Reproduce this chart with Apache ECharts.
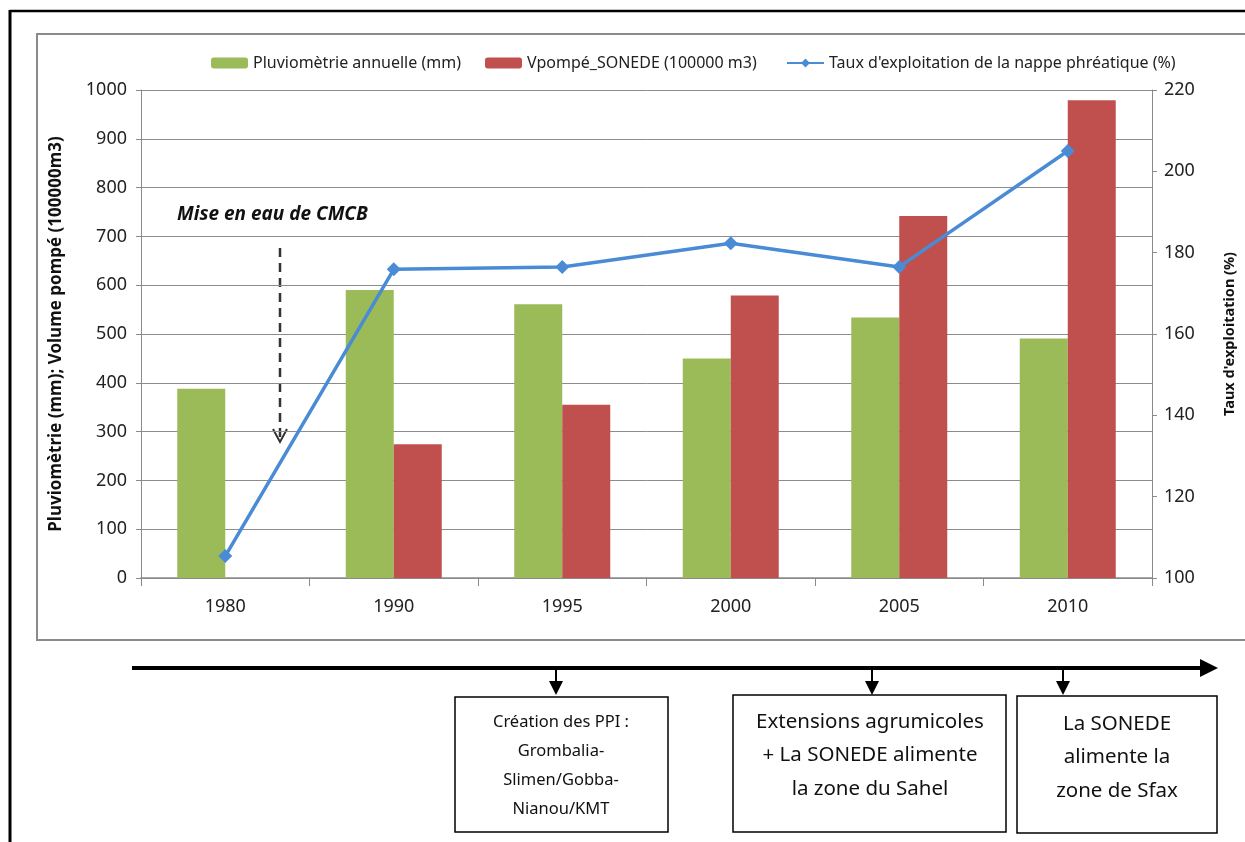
<!DOCTYPE html>
<html>
<head>
<meta charset="utf-8">
<script src="https://cdn.jsdelivr.net/npm/echarts@6/dist/echarts.min.js"></script>
<style>
html,body{margin:0;padding:0;background:#fff;}
#chart{width:1245px;height:842px;}
</style>
</head>
<body>
<div id="chart"></div>
<script>
var categories = ['1980', '1990', '1995', '2000', '2005', '2010'];
var pluviometrie = [388, 590, 561, 450, 534, 491];
var vpompe = [null, 274, 355, 579, 742, 979];
var taux = [105.4, 175.9, 176.5, 182.3, 176.5, 205];
var seriesNames = ['Pluviomètrie annuelle (mm)', 'Vpompé_SONEDE (100000 m3)', "Taux d'exploitation de la nappe phréatique (%)"];
var leftAxisName = 'Pluviomètrie (mm); Volume pompé (100000m3)';
var rightAxisName = "Taux d'exploitation (%)";
var annotationText = 'Mise en eau de CMCB';
var box1Lines = ['Création des PPI :', 'Grombalia-', 'Slimen/Gobba-', 'Nianou/KMT'];
var box2Lines = ['Extensions agrumicoles', '+ La SONEDE alimente', 'la zone du Sahel'];
var box3Lines = ['La SONEDE', 'alimente la', 'zone de Sfax'];

var FONT = 'Noto Sans';
var chart = echarts.init(document.getElementById('chart'));

function boxText(lines, cx, y, size, lh) {
  return {
    type: 'text',
    style: {
      text: lines.join('\n'), x: cx, y: y, textAlign: 'center', textVerticalAlign: 'top',
      font: size + 'px "' + FONT + '"', lineHeight: lh, fill: '#111'
    }
  };
}
function smallArrow(x) {
  return [
    {type: 'line', shape: {x1: x, y1: 668, x2: x, y2: 682}, style: {stroke: '#000', lineWidth: 2}},
    {type: 'polygon', shape: {points: [[x - 7, 681], [x + 7, 681], [x, 695]]}, style: {fill: '#000'}}
  ];
}

var graphics = [
  {type: 'line', shape: {x1: 10, y1: 11, x2: 1245, y2: 11}, style: {stroke: '#000', lineWidth: 2.5}},
  {type: 'line', shape: {x1: 10, y1: 10, x2: 10, y2: 842}, style: {stroke: '#000', lineWidth: 3}},
  {type: 'rect', shape: {x: 37, y: 34, width: 1220, height: 606}, style: {fill: 'none', stroke: '#8a8a8a', lineWidth: 2}, z: -1},
  {type: 'text', style: {text: annotationText, x: 177, y: 215, textVerticalAlign: 'middle',
    font: 'italic bold 19px "' + FONT + '"', fill: '#111'}},
  {type: 'line', shape: {x1: 280, y1: 248, x2: 280, y2: 441}, style: {stroke: '#333', lineWidth: 2.5, lineDash: [9, 6]}},
  {type: 'polyline', shape: {points: [[273, 429], [280, 442], [287, 429]]}, style: {stroke: '#333', lineWidth: 2, fill: 'none'}},
  {type: 'line', shape: {x1: 132, y1: 668, x2: 1204, y2: 668}, style: {stroke: '#000', lineWidth: 4}},
  {type: 'polygon', shape: {points: [[1200, 659], [1218, 668], [1200, 677]]}, style: {fill: '#000'}},
  {type: 'rect', shape: {x: 455, y: 697, width: 213, height: 135}, style: {fill: '#fff', stroke: '#000', lineWidth: 1.5}},
  {type: 'rect', shape: {x: 733, y: 695, width: 273, height: 137}, style: {fill: '#fff', stroke: '#000', lineWidth: 1.5}},
  {type: 'rect', shape: {x: 1017, y: 696, width: 200, height: 137}, style: {fill: '#fff', stroke: '#000', lineWidth: 1.5}},
  boxText(box1Lines, 561, 708, 16.5, 29),
  boxText(box2Lines, 870, 705, 20.5, 33.5),
  boxText(box3Lines, 1117, 707, 20.5, 33.5)
].concat(smallArrow(556), smallArrow(872), smallArrow(1063));

var legendBase = {
  top: 50, itemWidth: 37, itemHeight: 11, itemGap: 10, orient: 'horizontal',
  textStyle: {fontFamily: FONT, fontSize: 16, color: '#222'}
};

var option = {
  animation: false,
  backgroundColor: '#fff',
  textStyle: {fontFamily: FONT},
  legend: [
    Object.assign({}, legendBase, {left: 206, data: [seriesNames[0]]}),
    Object.assign({}, legendBase, {left: 480, data: [seriesNames[1]]}),
    Object.assign({}, legendBase, {left: 781, data: [seriesNames[2]]})
  ],
  grid: {left: 141, right: 93, top: 90, bottom: 264},
  xAxis: {
    type: 'category', data: categories,
    axisLine: {lineStyle: {color: '#8a8a8a', width: 1.5}},
    axisTick: {show: true, length: 8, lineStyle: {color: '#8a8a8a'}},
    axisLabel: {fontFamily: FONT, fontSize: 18, color: '#222', margin: 20}
  },
  yAxis: [
    {
      type: 'value', min: 0, max: 1000, interval: 100,
      name: leftAxisName, nameLocation: 'middle', nameGap: 76,
      nameTextStyle: {fontFamily: FONT, fontSize: 17, fontWeight: 'bold', color: '#111'},
      axisLine: {show: true, lineStyle: {color: '#8a8a8a', width: 1}},
      axisTick: {show: true, length: 5, lineStyle: {color: '#8a8a8a'}},
      axisLabel: {fontFamily: FONT, fontSize: 18, color: '#222', margin: 14,
        formatter: function (v) { return String(v); }},
      splitLine: {lineStyle: {color: '#8c8c8c', width: 1}}
    },
    {
      type: 'value', min: 100, max: 220, interval: 20, position: 'right',
      name: rightAxisName, nameLocation: 'middle', nameGap: 70,
      nameTextStyle: {fontFamily: FONT, fontSize: 14.5, fontWeight: 'bold', color: '#111'},
      axisLine: {show: true, lineStyle: {color: '#8a8a8a', width: 1}},
      axisTick: {show: true, length: 5, lineStyle: {color: '#8a8a8a'}},
      axisLabel: {fontFamily: FONT, fontSize: 18, color: '#222', margin: 12},
      splitLine: {show: false}
    }
  ],
  series: [
    {name: seriesNames[0], type: 'bar', data: pluviometrie, barWidth: 48, barGap: '0%',
      itemStyle: {color: '#9BBB59'}},
    {name: seriesNames[1], type: 'bar', data: vpompe, barWidth: 48, barGap: '0%',
      itemStyle: {color: '#C0504D'}},
    {name: seriesNames[2], type: 'line', yAxisIndex: 1, data: taux,
      symbol: 'diamond', symbolSize: 14,
      lineStyle: {color: '#4A8BD6', width: 3.5}, itemStyle: {color: '#4A8BD6'}}
  ],
  graphic: graphics
};
chart.setOption(option);
</script>
</body>
</html>
